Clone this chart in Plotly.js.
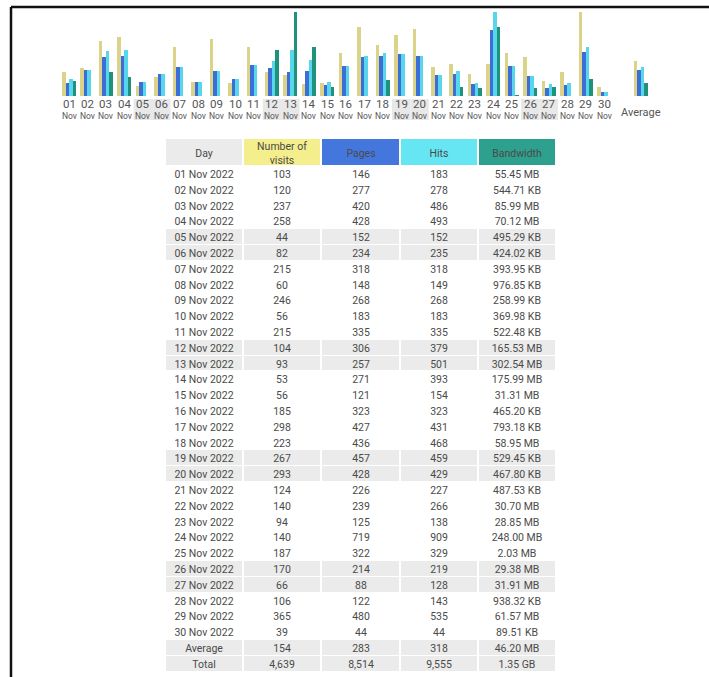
<!DOCTYPE html>
<html>
<head>
<meta charset="utf-8">
<script src="https://cdn.plot.ly/plotly-3.0.1.min.js"></script>
<style>
html,body{margin:0;padding:0;background:#fff;}
#chart{width:709px;height:677px;}
</style>
</head>
<body>
<div id="chart"></div>
<script>
// ---- data ----
const days = ["01","02","03","04","05","06","07","08","09","10","11","12","13","14","15","16","17","18","19","20","21","22","23","24","25","26","27","28","29","30"];
const month = "Nov";
const year = "2022";
const visits = [103,120,237,258,44,82,215,60,246,56,215,104,93,53,56,185,298,223,267,293,124,140,94,140,187,170,66,106,365,39];
const pages  = [146,277,420,428,152,234,318,148,268,183,335,306,257,271,121,323,427,436,457,428,226,239,125,719,322,214,88,122,480,44];
const hits   = [183,278,486,493,152,235,318,149,268,183,335,379,501,393,154,323,431,468,459,429,227,266,138,909,329,219,128,143,535,44];
const bandwidth = ["55.45 MB","544.71 KB","85.99 MB","70.12 MB","495.29 KB","424.02 KB","393.95 KB","976.85 KB","258.99 KB","369.98 KB","522.48 KB","165.53 MB","302.54 MB","175.99 MB","31.31 MB","465.20 KB","793.18 KB","58.95 MB","529.45 KB","467.80 KB","487.53 KB","30.70 MB","28.85 MB","248.00 MB","2.03 MB","29.38 MB","31.91 MB","938.32 KB","61.57 MB","89.51 KB"];
const avgRow   = ["Average","154","283","318","46.20 MB"];
const totalRow = ["Total","4,639","8,514","9,555","1.35 GB"];
const headers = ["Day","Number of<br>visits","Pages","Hits","Bandwidth"];
const avgLabel = "Average";

// ---- helpers ----
function toMB(s){
  const p = s.split(" "); const v = parseFloat(p[0].replace(/,/g,""));
  const u = p[1];
  return u==="GB"? v*1024 : u==="KB"? v/1024 : v;
}
const bwMB = bandwidth.map(toMB);
const avgVals = avgRow.slice(1).map(s=>s.includes(" ")?toMB(s):parseFloat(s.replace(/,/g,"")));
const xDays = days.map((d,i)=>i+1);
const xAvg = days.length+2;
const xAll = xDays.concat([xAvg]);
const isWeekend = days.map(d=>{const w=new Date(+year,10,+d).getDay();return w===0||w===6;});
const FONT = 'Roboto, Arial, sans-serif';

const colV='#DCD38A', colP='#3D6ED8', colH='#58D6EC', colK='#1F927D';
const bw = 0.19;
function barTrace(y, color, yaxis, off){
  return {type:'bar', x:xAll, y:y, xaxis:'x', yaxis:yaxis, width:bw, offset:off,
          marker:{color:color, line:{width:0}}, hoverinfo:'y', showlegend:false};
}
const traces = [
  barTrace(visits.concat([avgVals[0]]), colV, 'y', -2*bw),
  barTrace(pages.concat([avgVals[1]]), colP, 'y2', -bw),
  barTrace(hits.concat([avgVals[2]]), colH, 'y2', 0),
  barTrace(bwMB.concat([avgVals[3]]), colK, 'y3', bw)
];

// ---- table as heatmap ----
const dayCol = days.map(d=>d+" "+month+" "+year);
const bodyRows = days.map((d,i)=>[dayCol[i], String(visits[i]), String(pages[i]), String(hits[i]), bandwidth[i]]);
const allRows = [headers].concat(bodyRows, [avgRow, totalRow]);
// colour codes: 0 white, 1 grey, 2 yellow, 3 blue, 4 cyan, 5 teal
const headerCodes = [1,2,3,4,5];
const zRows = [headerCodes].concat(
  isWeekend.map(w=>[0,0,0,0,0].map(()=>w?1:0)),
  [[1,1,1,1,1],[1,1,1,1,1]]
);
const headerH = 27, rowH = 15.8;
const yEdges = [0];
allRows.forEach((r,i)=>yEdges.push(yEdges[i] + (i===0?headerH:rowH)));
const xEdges = [0,1,2,3,4,5];
const cs = ['#FFFFFF','#EBEBEB','#F4EE8C','#4477DD','#66E6F2','#2EA08E'];
const colorscale = [];
cs.forEach((c,i)=>{colorscale.push([i/6,c]);colorscale.push([(i+1)/6,c]);});
traces.push({
  type:'heatmap', xaxis:'x2', yaxis:'y4',
  x:xEdges, y:yEdges, z:zRows, zmin:0, zmax:6,
  colorscale:colorscale, showscale:false, xgap:2, ygap:1,
  text:allRows, texttemplate:'%{text}',
  textfont:{family:FONT, size:10.5, color:'#4a4a4a'},
  hoverinfo:'skip'
});

// ---- day labels ----
const annotations = [];
days.forEach((d,i)=>{
  annotations.push({x:xDays[i], y:1-109/677, xref:'x', yref:'paper', xanchor:'center', yanchor:'middle',
    text:"<span style='font-size:11.5px'>"+d+"</span><br>"+month, showarrow:false,
    font:{family:FONT, size:8.5, color:'#555'}, borderpad:0});
});
annotations.push({x:xAvg, y:1-112/677, xref:'x', yref:'paper', xanchor:'center', yanchor:'middle',
  text:avgLabel, showarrow:false, font:{family:FONT, size:11, color:'#555'}});

const shapes = [];
days.forEach((d,i)=>{
  if(isWeekend[i]) shapes.push({type:'rect', xref:'x', yref:'paper', x0:xDays[i]-0.5, x1:xDays[i]+0.5,
    y0:1-120/677, y1:1-99/677, fillcolor:'#E8E8E8', line:{width:0}, layer:'below'});
});
shapes.push({type:'line', xref:'paper', yref:'paper', x0:11/709, x1:1, y0:1-7/677, y1:1-7/677, line:{color:'#111', width:2.5}});
shapes.push({type:'line', xref:'paper', yref:'paper', x0:11/709, x1:11/709, y0:1-7/677, y1:0, line:{color:'#111', width:2.5}});

const yTop = 1-12/677, yBot = 1-96/677;
const tableTop = 139, tableBot = tableTop + yEdges[yEdges.length-1];
const layout = {
  width:709, height:677, margin:{l:0,r:0,t:0,b:0},
  paper_bgcolor:'#fff', plot_bgcolor:'#fff',
  bargap:0, showlegend:false,
  xaxis:{domain:[59.8/709, 650.2/709], range:[0.5, xAvg+0.5], showticklabels:false, showgrid:false, zeroline:false, ticks:''},
  yaxis:{domain:[yBot,yTop], range:[0, Math.max(...visits)], visible:false},
  yaxis2:{overlaying:'y', range:[0, Math.max(...hits)], visible:false},
  yaxis3:{overlaying:'y', range:[0, Math.max(...bwMB)], visible:false},
  xaxis2:{domain:[165/709, 556/709], range:[0,5], visible:false, anchor:'y4'},
  yaxis4:{domain:[1-tableBot/677, 1-tableTop/677], range:[yEdges[yEdges.length-1], 0], visible:false, anchor:'x2'},
  annotations:annotations,
  shapes:shapes
};
Plotly.newPlot('chart', traces, layout, {displayModeBar:false, staticPlot:true});
</script>
</body>
</html>
